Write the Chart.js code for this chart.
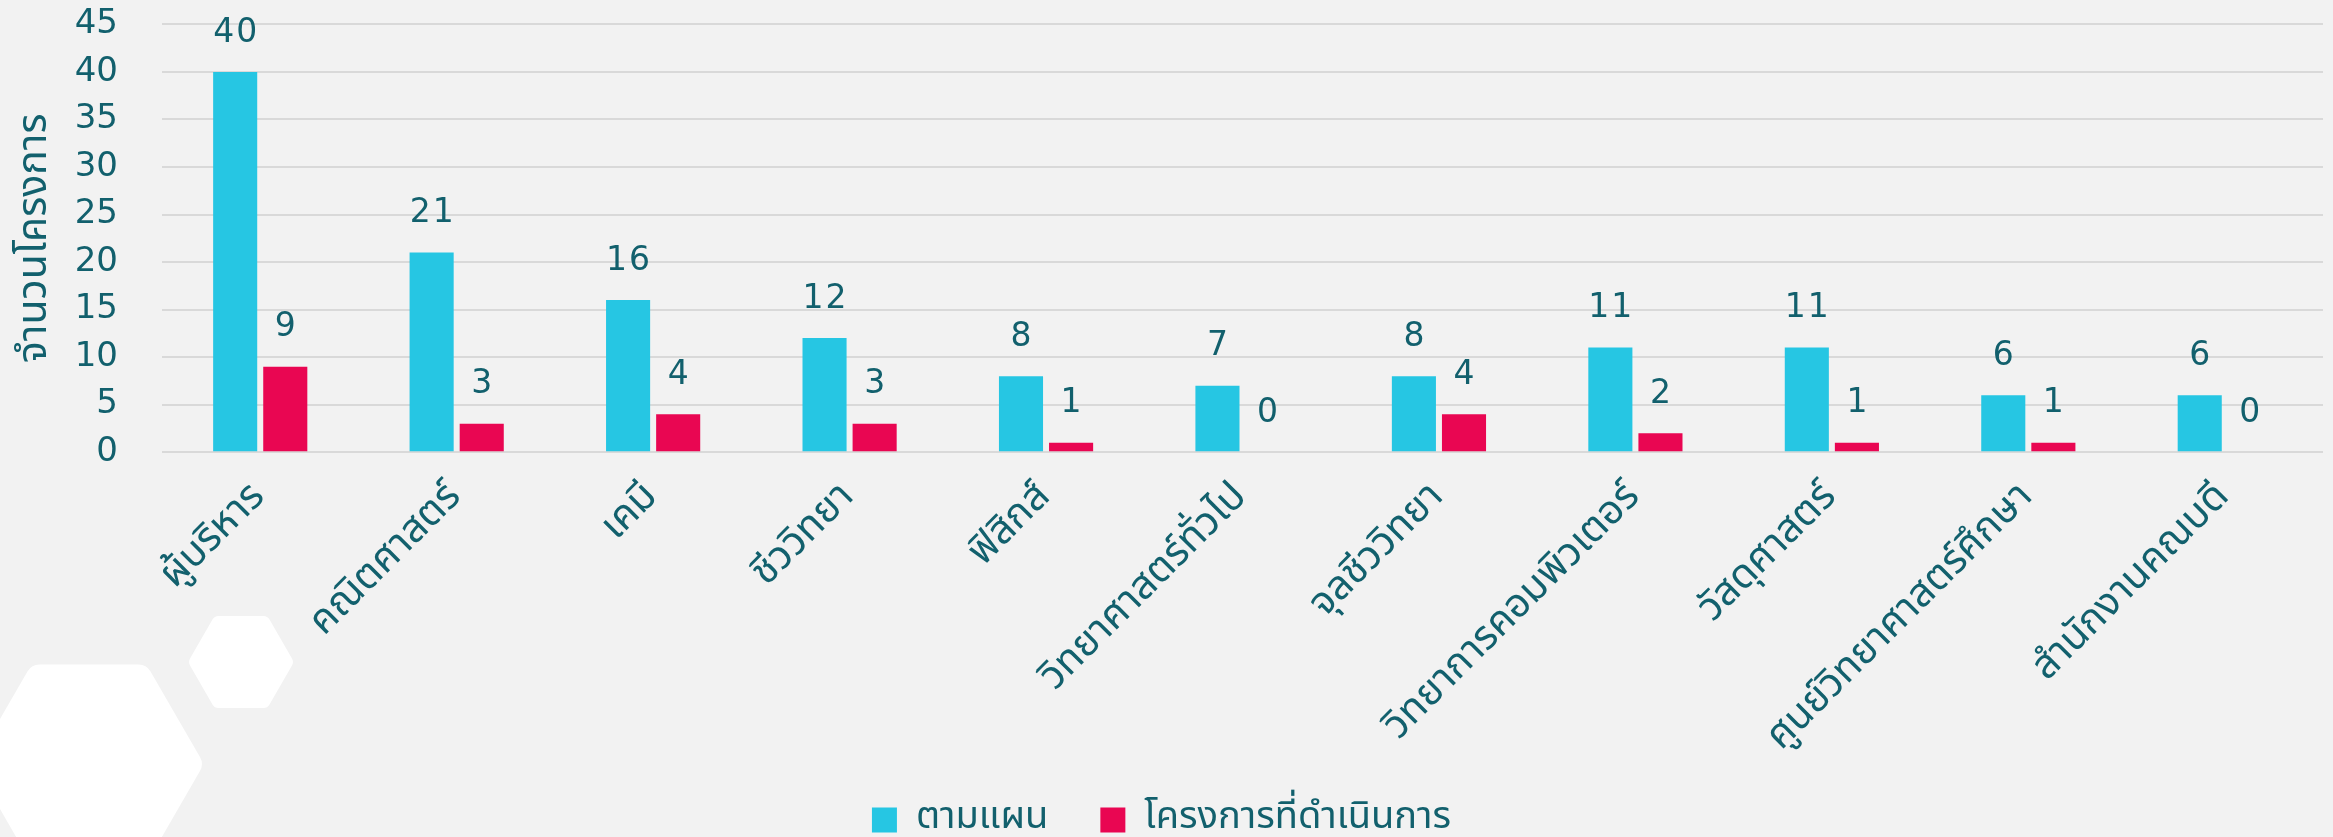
<!DOCTYPE html>
<html>
<head>
<meta charset="utf-8">
<script src="https://cdn.jsdelivr.net/npm/chart.js@4.4.1/dist/chart.umd.min.js"></script>
<style>
  html, body { margin: 0; padding: 0; background: #f2f2f2; }
  #wrap { width: 2333px; height: 837px; position: relative; }
</style>
</head>
<body>
<div id="wrap"><canvas id="chart" width="2333" height="837"></canvas></div>
<script>
// ── data ──
const CATEGORIES = [
  'ผู้บริหาร', 'คณิตศาสตร์', 'เคมี', 'ชีววิทยา', 'ฟิสิกส์', 'วิทยาศาสตร์ทั่วไป',
  'จุลชีววิทยา', 'วิทยาการคอมพิวเตอร์', 'วัสดุศาสตร์', 'ศูนย์วิทยาศาสตร์ศึกษา', 'สำนักงานคณบดี'
];
const PLANNED = [40, 21, 16, 12, 8, 7, 8, 11, 11, 6, 6];
const DONE    = [9, 3, 4, 3, 1, 0, 4, 2, 1, 1, 0];
const SERIES_NAMES = ['ตามแผน', 'โครงการที่ดำเนินการ'];
const Y_MAX = 45;
const Y_STEP = 5;

const TEXT_COLOR = '#12606d';
const GRID_COLOR = '#d9d9d9';
const BLUE = '#26c6e3';
const RED  = '#e90652';
const THAI_FONT = "'Noto Sans Thai', 'Noto Sans', 'DejaVu Sans', sans-serif";
const NUM_FONT  = "'DejaVu Sans', sans-serif";

// ── decorative hexagons behind the chart ──
function hexPath(ctx, cx, cy, r, round) {
  const pts = [];
  for (let i = 0; i < 6; i++) {
    const a = Math.PI / 3 * i;
    pts.push([cx + r * Math.cos(a), cy + r * Math.sin(a)]);
  }
  ctx.beginPath();
  const start = [(pts[5][0] + pts[0][0]) / 2, (pts[5][1] + pts[0][1]) / 2];
  ctx.moveTo(start[0], start[1]);
  for (let i = 0; i < 6; i++) {
    const p = pts[i], q = pts[(i + 1) % 6];
    ctx.arcTo(p[0], p[1], q[0], q[1], round);
  }
  ctx.closePath();
}

const hexDecor = {
  id: 'hexDecor',
  beforeDraw(chart) {
    const ctx = chart.ctx;
    ctx.save();
    ctx.fillStyle = '#ffffff';
    hexPath(ctx, 89, 764, 115, 14);
    ctx.fill();
    hexPath(ctx, 241, 662, 53, 7);
    ctx.fill();
    ctx.restore();
  }
};

// ── value labels above bars ──
const valueLabels = {
  id: 'valueLabels',
  afterDatasetsDraw(chart) {
    const ctx = chart.ctx;
    ctx.save();
    ctx.fillStyle = TEXT_COLOR;
    ctx.font = `33px ${NUM_FONT}`;
    ctx.letterSpacing = '2px';
    ctx.textAlign = 'center';
    ctx.textBaseline = 'middle';
    chart.data.datasets.forEach((ds, di) => {
      chart.getDatasetMeta(di).data.forEach((bar, i) => {
        ctx.fillText(String(ds.data[i]), bar.x + 1, bar.y - 39);
      });
    });
    ctx.restore();
  }
};

// wider gap between the two legend items without making the legend taller
const LEGEND_EXTRA_GAP = 28;
const legendGap = {
  id: 'legendGap',
  afterLayout(chart) {
    const l = chart.legend;
    if (!l || !l.lineWidths) return;
    l.options.labels.padding += LEGEND_EXTRA_GAP;
    l.top -= LEGEND_EXTRA_GAP;
    l.lineWidths[0] += LEGEND_EXTRA_GAP * 2;
  }
};

new Chart(document.getElementById('chart'), {
  type: 'bar',
  data: {
    labels: CATEGORIES,
    datasets: [
      {
        label: SERIES_NAMES[0],
        data: PLANNED,
        backgroundColor: BLUE,
        barPercentage: 0.88,
        categoryPercentage: 0.51,
      },
      {
        label: SERIES_NAMES[1],
        data: DONE,
        backgroundColor: RED,
        barPercentage: 0.88,
        categoryPercentage: 0.51,
      },
    ],
  },
  options: {
    responsive: false,
    animation: false,
    layout: { padding: { top: -1, right: 10, left: 0, bottom: -12 } },
    plugins: {
      legend: {
        position: 'bottom',
        labels: {
          color: TEXT_COLOR,
          font: { size: 38, family: THAI_FONT },
          boxWidth: 25,
          boxHeight: 25,
          padding: 24,
        },
      },
      tooltip: { enabled: false },
    },
    scales: {
      x: {
        grid: { display: false },
        border: { display: false },
        ticks: {
          color: TEXT_COLOR,
          font: { size: 40, family: THAI_FONT },
          minRotation: 45,
          maxRotation: 45,
          autoSkip: false,
          padding: 15,
        },
      },
      y: {
        min: 0,
        max: Y_MAX,
        grid: {
          color: GRID_COLOR,
          lineWidth: 2,
          drawTicks: true,
          tickLength: 40,
          tickColor: 'rgba(0,0,0,0)',
        },
        border: { display: false },
        ticks: {
          stepSize: Y_STEP,
          color: TEXT_COLOR,
          font: { size: 34, family: NUM_FONT },
          padding: 4,
        },
        title: {
          display: true,
          text: 'จำนวนโครงการ',
          color: TEXT_COLOR,
          font: { size: 41, family: THAI_FONT },
          padding: { top: 13, bottom: 0 },
        },
        afterFit(scale) { scale.width = 162; },
      },
    },
  },
  plugins: [hexDecor, valueLabels, legendGap],
});
</script>
</body>
</html>
